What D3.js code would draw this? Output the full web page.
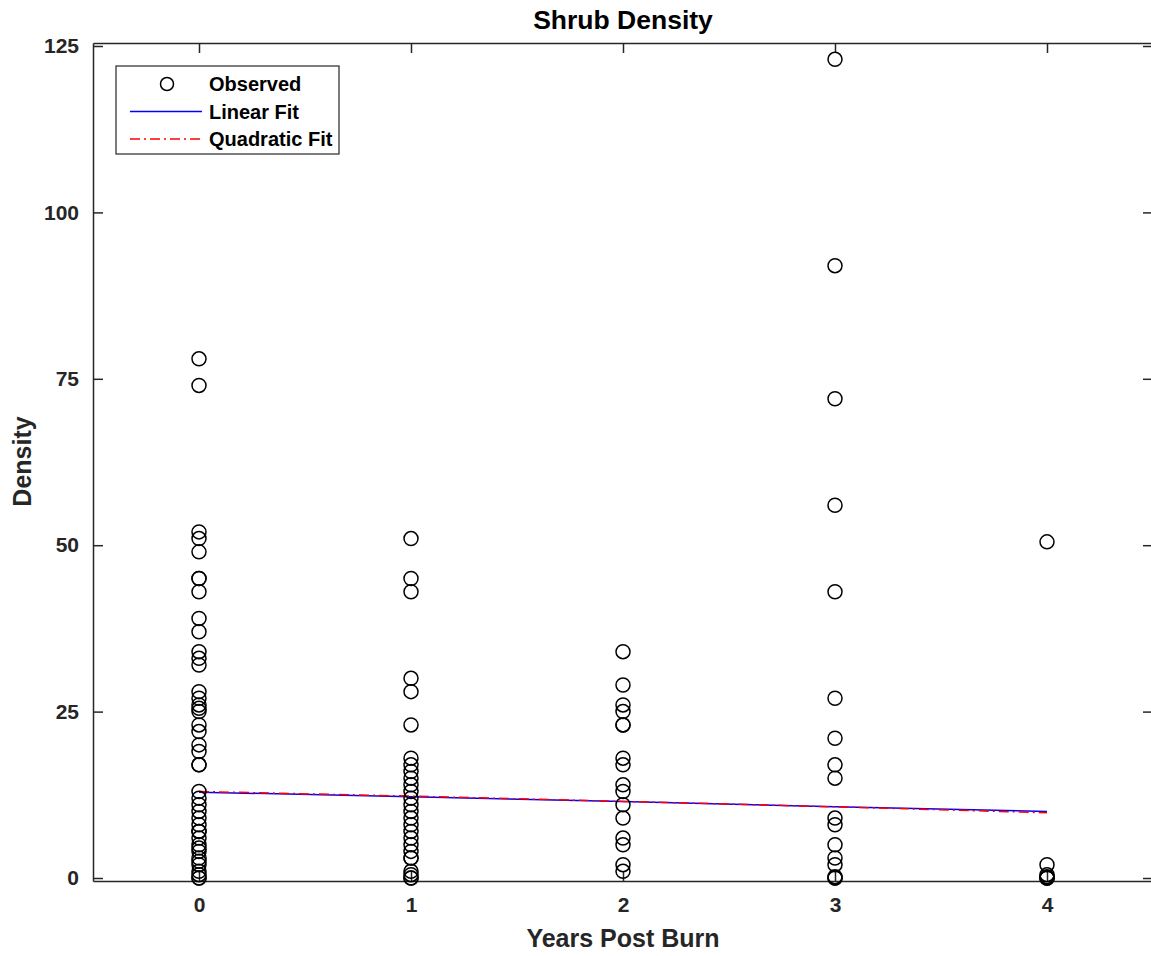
<!DOCTYPE html>
<html>
<head>
<meta charset="utf-8">
<script src="https://cdn.jsdelivr.net/npm/d3@7"></script>
<style>
  html, body { margin: 0; padding: 0; background: #fff; }
  svg { display: block; font-family: "Liberation Sans", Arial, sans-serif; }
</style>
</head>
<body>
<div id="chart"></div>
<script>
// observed densities per year post burn
const year0 = [78, 74, 52, 51, 49, 45, 45, 43, 39, 37, 34, 33, 32, 28, 27, 26, 25.5, 25, 23, 22, 20, 19, 17, 17,
  13, 12, 11, 10, 9, 8, 7, 7, 6, 5, 4.5, 4, 3, 2.5, 2, 1, 0.5, 0, 0];
const year1 = [51, 45, 43, 30, 28, 23, 18, 17, 16, 15, 14, 13, 12, 11, 10, 9, 8, 7, 6, 5, 4, 3, 3, 1, 0.5, 0, 0];
const year2 = [34, 29, 26, 25, 23, 23, 18, 17, 14, 13, 11, 9, 6, 5, 2, 1];
const year3 = [123, 92, 72, 56, 43, 27, 21, 17, 15, 9, 8, 5, 3, 2, 0.2, 0, 0];
const year4 = [50.5, 2, 0.5, 0.2, 0, 0, 0];
const observed = [year0, year1, year2, year3, year4];

// fitted curves, sampled at each year
const fitYears = [0, 1, 2, 3, 4];
const linearFit = [12.9, 12.2, 11.5, 10.7, 10.0];
const quadraticFit = [13.0, 12.3, 11.5, 10.7, 9.8];

const xTicks = [0, 1, 2, 3, 4];
const yTicks = [0, 25, 50, 75, 100, 125];

const width = 1151, height = 956;
const margin = { top: 43, right: -2, bottom: 75, left: 93 };
const innerW = width - margin.left - margin.right;
const innerH = height - margin.top - margin.bottom;

const svg = d3.select("#chart").append("svg")
  .attr("width", width)
  .attr("height", height);

const x = d3.scaleLinear().domain([-0.5, 4.5]).range([0, innerW]);
const y = d3.scaleLinear().domain([-0.45, 125.45]).range([innerH, 0]);

const g = svg.append("g").attr("transform", `translate(${margin.left},${margin.top})`);
const axisColor = "#262626";

// axes with inward ticks on all four sides
const tickLen = 10;
const axisB = g.append("g").attr("transform", `translate(0,${innerH})`)
  .call(d3.axisBottom(x).tickValues(xTicks).tickFormat(d3.format("d"))
    .tickSizeInner(-tickLen).tickSizeOuter(0).tickPadding(16));
const axisT = g.append("g")
  .call(d3.axisTop(x).tickValues(xTicks).tickSizeInner(-tickLen).tickSizeOuter(0).tickFormat(""));
const axisL = g.append("g")
  .call(d3.axisLeft(y).tickValues(yTicks).tickFormat(d3.format("d"))
    .tickSizeInner(-tickLen).tickSizeOuter(0).tickPadding(14));
const axisR = g.append("g").attr("transform", `translate(${innerW},0)`)
  .call(d3.axisRight(y).tickValues(yTicks).tickSizeInner(-tickLen).tickSizeOuter(0).tickFormat(""));

[axisB, axisT, axisL, axisR].forEach(a => {
  a.select(".domain").attr("stroke", axisColor).attr("stroke-width", 1.5);
  a.selectAll(".tick line").attr("stroke", axisColor).attr("stroke-width", 1.5);
  a.selectAll(".tick text")
    .attr("fill", axisColor)
    .style("font-size", "21px")
    .style("font-weight", "bold");
});

// fit lines
const line = d3.line().x((d, i) => x(fitYears[i])).y(d => y(d));
g.append("path").datum(linearFit)
  .attr("fill", "none").attr("stroke", "#0000ff").attr("stroke-width", 1.5)
  .attr("d", line);
g.append("path").datum(quadraticFit)
  .attr("fill", "none").attr("stroke", "#ff0000").attr("stroke-width", 1.5)
  .attr("stroke-dasharray", "10 4 2 4")
  .attr("d", line);

// observed points
const points = observed.flatMap((vals, yr) => vals.map(v => ({ yr, v })));
g.append("g").selectAll("circle").data(points).join("circle")
  .attr("cx", d => x(d.yr))
  .attr("cy", d => y(d.v))
  .attr("r", 7)
  .attr("fill", "none")
  .attr("stroke", "#000")
  .attr("stroke-width", 1.5);

// title and axis labels
svg.append("text")
  .attr("x", margin.left + x(2)).attr("y", 29)
  .attr("text-anchor", "middle")
  .style("font-size", "26.5px").style("font-weight", "bold")
  .attr("fill", "#000")
  .text("Shrub Density");

svg.append("text")
  .attr("x", margin.left + x(2)).attr("y", 947)
  .attr("text-anchor", "middle")
  .style("font-size", "25px").style("font-weight", "bold")
  .attr("fill", axisColor)
  .text("Years Post Burn");

svg.append("text")
  .attr("transform", `translate(31,${(43 + 880) / 2}) rotate(-90)`)
  .attr("text-anchor", "middle")
  .style("font-size", "25px").style("font-weight", "bold")
  .attr("fill", axisColor)
  .text("Density");

// legend
const legend = svg.append("g").attr("transform", "translate(116,66)");
legend.append("rect")
  .attr("width", 223).attr("height", 88)
  .attr("fill", "#fff").attr("stroke", axisColor).attr("stroke-width", 1.2);

const entries = [
  { label: "Observed", kind: "marker" },
  { label: "Linear Fit", kind: "linear" },
  { label: "Quadratic Fit", kind: "quad" }
];
entries.forEach((e, i) => {
  const cy = 18 + i * 27.5;
  if (e.kind === "marker") {
    legend.append("circle").attr("cx", 51).attr("cy", cy).attr("r", 6.5)
      .attr("fill", "none").attr("stroke", "#000").attr("stroke-width", 1.5);
  } else {
    legend.append("line")
      .attr("x1", 14).attr("x2", 86).attr("y1", cy).attr("y2", cy)
      .attr("stroke", e.kind === "linear" ? "#0000ff" : "#ff0000")
      .attr("stroke-width", 1.5)
      .attr("stroke-dasharray", e.kind === "quad" ? "10 4 2 4" : null);
  }
  legend.append("text")
    .attr("x", 93).attr("y", cy + 7)
    .style("font-size", "20px").style("font-weight", "bold")
    .attr("fill", "#000")
    .text(e.label);
});
</script>
</body>
</html>
